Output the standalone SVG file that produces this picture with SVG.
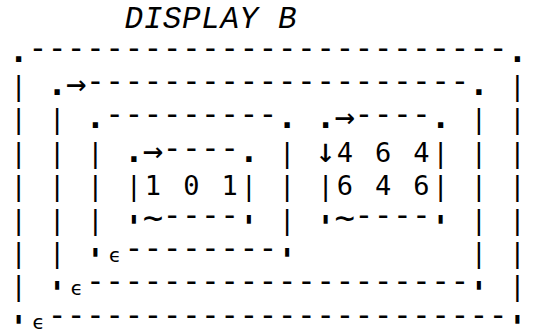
<svg xmlns="http://www.w3.org/2000/svg" width="543" height="330" viewBox="0 0 543 330">
<style>
text{fill:#000;text-anchor:middle}
.m{font-family:"DejaVu Sans Mono",monospace;font-size:27px}
.d{font-size:32px;baseline-shift:3px}
.p{font-size:32px;font-weight:bold}
.a{font-size:34px}
.w{font-size:34px}
.q{font-family:"DejaVu Sans Mono",monospace;font-size:32px;font-weight:bold}
.e{font-family:"DejaVu Sans Mono",monospace;font-size:20px}
.t{font-family:"Liberation Mono",monospace;font-size:31px;font-style:italic}
</style>
<rect width="543" height="330" fill="#fff"/>
<g id="title">
<text class="t" y="28" x="133.8 153 172.1 191.3 210.5 229.7 248.9">DISPLAY</text>
<text class="t" y="28" x="287.2">B</text>
</g>
<g id="display">
<g id="row1">
<text class="m" y="61.5" x="18.7 37.9 57.1 76.2 95.4 114.6 133.8 153 172.1 191.3 210.5 229.7 248.9 268 287.2 306.4 325.6 344.8 364 383.1 402.3 421.5 440.7 459.8 479 498.2 517.4"><tspan class="p">.</tspan><tspan class="d">-------------------------</tspan><tspan class="p">.</tspan></text>
</g>
<g id="row2">
<text class="m" y="94.9" x="18.7 57.1 76.2 95.4 114.6 133.8 153 172.1 191.3 210.5 229.7 248.9 268 287.2 306.4 325.6 344.8 364 383.1 402.3 421.5 440.7 459.8 479 517.4">|<tspan class="p">.</tspan><tspan class="a">→</tspan><tspan class="d">--------------------</tspan><tspan class="p">.</tspan>|</text>
</g>
<g id="row3">
<text class="m" y="128.3" x="18.7 57.1 95.4 114.6 133.8 153 172.1 191.3 210.5 229.7 248.9 268 287.2 325.6 344.8 364 383.1 402.3 421.5 440.7 479 517.4">||<tspan class="p">.</tspan><tspan class="d">---------</tspan><tspan class="p">..</tspan><tspan class="a">→</tspan><tspan class="d">----</tspan><tspan class="p">.</tspan>||</text>
</g>
<g id="row4">
<text class="m" y="161.7" x="18.7 57.1 95.4 133.8 153 172.1 191.3 210.5 229.7 248.9 287.2 325.6 344.8 383.1 421.5 440.7 479 517.4">|||<tspan class="p">.</tspan><tspan class="a">→</tspan><tspan class="d">----</tspan><tspan class="p">.</tspan>|<tspan class="a">↓</tspan>464|||</text>
</g>
<g id="row5">
<text class="m" y="195.1" x="18.7 57.1 95.4 133.8 153 191.3 229.7 248.9 287.2 325.6 344.8 383.1 421.5 440.7 479 517.4">||||101|||646|||</text>
</g>
<g id="row6">
<text class="m" y="228.5" x="18.7 57.1 95.4 153 172.1 191.3 210.5 229.7 287.2 344.8 364 383.1 402.3 421.5 479 517.4">|||<tspan class="w">~</tspan><tspan class="d">----</tspan>|<tspan class="w">~</tspan><tspan class="d">----</tspan>||</text>
<text class="q" y="237.5" x="133.8 248.9 325.6 440.7">''''</text>
</g>
<g id="row7">
<text class="m" y="261.9" x="18.7 57.1 133.8 153 172.1 191.3 210.5 229.7 248.9 268 479 517.4">||<tspan class="d">--------</tspan>||</text>
<text class="e" y="261.9" x="114.6">ϵ</text>
<text class="q" y="270.9" x="95.4 287.2">''</text>
</g>
<g id="row8">
<text class="m" y="295.3" x="18.7 95.4 114.6 133.8 153 172.1 191.3 210.5 229.7 248.9 268 287.2 306.4 325.6 344.8 364 383.1 402.3 421.5 440.7 459.8 517.4">|<tspan class="d">--------------------</tspan>|</text>
<text class="e" y="295.3" x="76.2">ϵ</text>
<text class="q" y="304.3" x="57.1 479">''</text>
</g>
<g id="row9">
<text class="m" y="328.7" x="57.1 76.2 95.4 114.6 133.8 153 172.1 191.3 210.5 229.7 248.9 268 287.2 306.4 325.6 344.8 364 383.1 402.3 421.5 440.7 459.8 479 498.2"><tspan class="d">------------------------</tspan></text>
<text class="e" y="328.7" x="37.9">ϵ</text>
<text class="q" y="337.7" x="18.7 517.4">''</text>
</g>
</g>
</svg>
